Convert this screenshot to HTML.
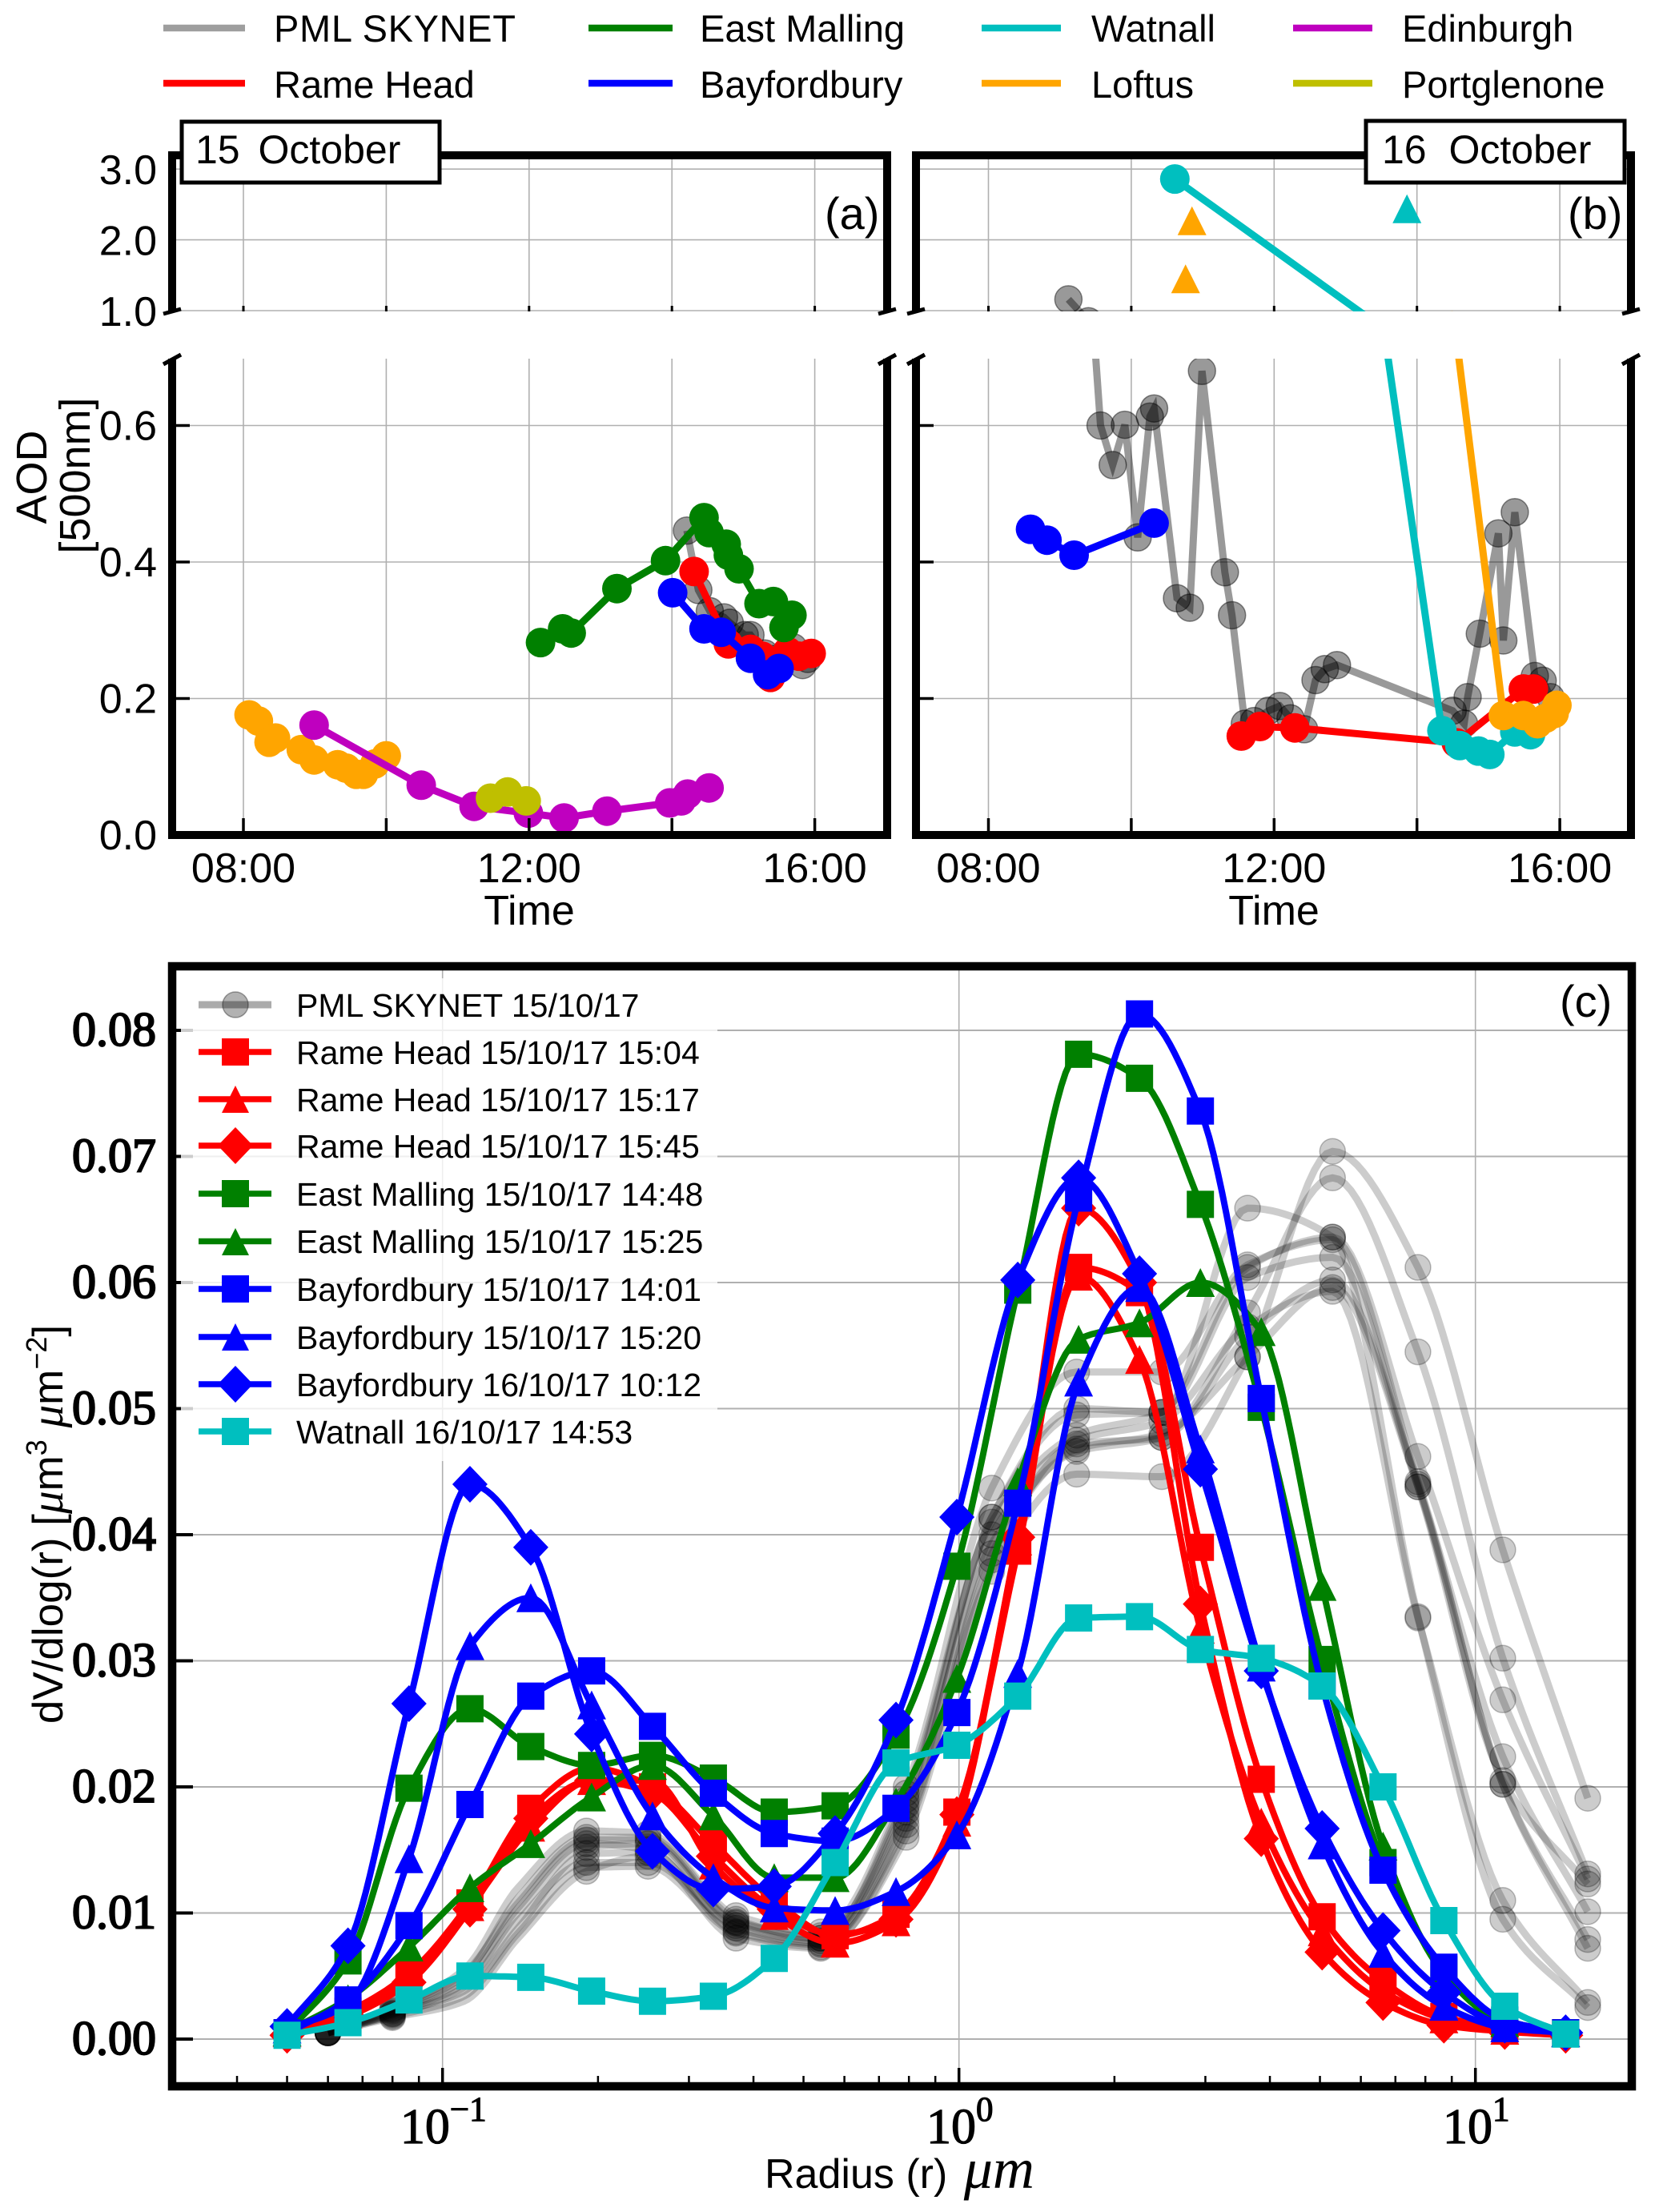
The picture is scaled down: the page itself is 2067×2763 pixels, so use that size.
<!DOCTYPE html>
<html lang="en">
<head>
<meta charset="utf-8">
<title>AOD time series and size distributions</title>
<style>
html,body{margin:0;padding:0;background:#fff;}
svg{display:block;}
text{font-family:"Liberation Sans",sans-serif;fill:#000;}
.tk{font-size:52px;}
.leg{font-size:47px;}
.leg2{font-size:41px;}
.srf{font-family:"Liberation Serif",serif;}
</style>
</head>
<body>
<svg id="figure" xmlns="http://www.w3.org/2000/svg" width="2067" height="2763" viewBox="0 0 2067 2763">
<defs>
<clipPath id="clip-a-up"><rect x="215" y="194" width="893" height="195"/></clipPath>
<clipPath id="clip-a-lo"><rect x="215" y="448" width="893" height="595"/></clipPath>
<clipPath id="clip-b-up"><rect x="1144" y="194" width="893" height="195"/></clipPath>
<clipPath id="clip-b-lo"><rect x="1144" y="448" width="893" height="595"/></clipPath>
</defs>
<rect width="2067" height="2763" fill="#fff"/>

<g>
  <g><line x1="204" x2="306" y1="35" y2="35" stroke="#000" stroke-opacity=".38" stroke-width="8.500"/><text class="leg" x="342" y="52" textLength="302">PML SKYNET</text></g>
  <g><line x1="204" x2="306" y1="104" y2="104" stroke="#f00" stroke-width="8.500"/><text class="leg" x="342" y="122">Rame Head</text></g>
  <g><line x1="735" x2="840" y1="35" y2="35" stroke="#008000" stroke-width="8.500"/><text class="leg" x="874" y="52">East Malling</text></g>
  <g><line x1="735" x2="840" y1="104" y2="104" stroke="#00f" stroke-width="8.500"/><text class="leg" x="874" y="122">Bayfordbury</text></g>
  <g><line x1="1226" x2="1325" y1="35" y2="35" stroke="#00bfbf" stroke-width="8.500"/><text class="leg" x="1363" y="52">Watnall</text></g>
  <g><line x1="1226" x2="1325" y1="104" y2="104" stroke="#ffa500" stroke-width="8.500"/><text class="leg" x="1363" y="122">Loftus</text></g>
  <g><line x1="1615" x2="1714" y1="35" y2="35" stroke="#bf00bf" stroke-width="8.500"/><text class="leg" x="1751" y="52">Edinburgh</text></g>
  <g><line x1="1615" x2="1714" y1="104" y2="104" stroke="#bfbf00" stroke-width="8.500"/><text class="leg" x="1751" y="122">Portglenone</text></g>
</g>

<g id="grid-layer"></g>
<g id="data-a-up" clip-path="url(#clip-a-up)"></g>
<g id="data-a-lo" clip-path="url(#clip-a-lo)"></g>
<g id="data-b-up" clip-path="url(#clip-b-up)"></g>
<g id="data-b-lo" clip-path="url(#clip-b-lo)"></g>
<g id="data-c"></g>
<g id="tick-layer"></g>

<g fill="none" stroke="#000" stroke-width="10">
  <path d="M215 389V194H1108V389"/>
  <path d="M215 448V1043H1108V448"/>
  <g stroke-width="5">
    <path d="M204 392L226 386M204 455L226 443M1097 392L1119 386M1097 455L1119 443"/>
  </g>
</g>
<g fill="none" stroke="#000" stroke-width="10">
  <path d="M1144 389V194H2037V389"/>
  <path d="M1144 448V1043H2037V448"/>
  <g stroke-width="5">
    <path d="M1133 392L1155 386M1133 455L1155 443M2026 392L2048 386M2026 455L2048 443"/>
  </g>
</g>
<rect x="215" y="1207" width="1823" height="1399" fill="none" stroke="#000" stroke-width="10.500"/>

<g>
  <rect x="227" y="152" width="322" height="76" fill="#fff" stroke="#000" stroke-width="5"/>
  <text x="244" y="204" font-size="50" word-spacing="9">15 October</text>
  <text x="1030" y="286" font-size="56">(a)</text>
</g>
<g>
  <rect x="1706" y="151" width="323" height="77" fill="#fff" stroke="#000" stroke-width="5"/>
  <text x="1726" y="204" font-size="50" word-spacing="14">16 October</text>
  <text x="1958" y="286" font-size="56">(b)</text>
</g>
<text class="tk" x="661" y="1155" text-anchor="middle">Time</text>
<text class="tk" x="1591" y="1155" text-anchor="middle">Time</text>
<text transform="translate(58,596) rotate(-90)" text-anchor="middle" font-size="54">AOD</text>
<text transform="translate(112,594) rotate(-90)" text-anchor="middle" font-size="54">[500nm]</text>

<g>
  <rect x="226" y="1222" width="670" height="603" fill="#fff" fill-opacity=".8"/>
  <g><line x1="248" x2="339" y1="1255" y2="1255" stroke="#000" stroke-opacity=".33" stroke-width="9"/><circle cx="294" cy="1255" r="16" fill="#000" fill-opacity=".3" stroke="#000" stroke-opacity=".35" stroke-width="1.5"/><text class="leg2" x="370" y="1270">PML SKYNET 15/10/17</text></g>
  <g><line x1="248" x2="339" y1="1314" y2="1314" stroke="#f00" stroke-width="7.500"/><rect x="277" y="1297" width="34" height="34" fill="#f00"/><text class="leg2" x="370" y="1329">Rame Head 15/10/17 15:04</text></g>
  <g><line x1="248" x2="339" y1="1373" y2="1373" stroke="#f00" stroke-width="7.500"/><path d="M294 1356L311 1390H277Z" fill="#f00"/><text class="leg2" x="370" y="1388">Rame Head 15/10/17 15:17</text></g>
  <g><line x1="248" x2="339" y1="1431" y2="1431" stroke="#f00" stroke-width="7.500"/><path d="M294 1408L316 1431L294 1454L272 1431Z" fill="#f00"/><text class="leg2" x="370" y="1446">Rame Head 15/10/17 15:45</text></g>
  <g><line x1="248" x2="339" y1="1491" y2="1491" stroke="#008000" stroke-width="7.500"/><rect x="277" y="1474" width="34" height="34" fill="#008000"/><text class="leg2" x="370" y="1506">East Malling 15/10/17 14:48</text></g>
  <g><line x1="248" x2="339" y1="1550.500" y2="1550.500" stroke="#008000" stroke-width="7.500"/><path d="M294 1534L311 1568H277Z" fill="#008000"/><text class="leg2" x="370" y="1565">East Malling 15/10/17 15:25</text></g>
  <g><line x1="248" x2="339" y1="1610" y2="1610" stroke="#00f" stroke-width="7.500"/><rect x="277" y="1593" width="34" height="34" fill="#00f"/><text class="leg2" x="370" y="1625">Bayfordbury 15/10/17 14:01</text></g>
  <g><line x1="248" x2="339" y1="1670" y2="1670" stroke="#00f" stroke-width="7.500"/><path d="M294 1653L311 1687H277Z" fill="#00f"/><text class="leg2" x="370" y="1685">Bayfordbury 15/10/17 15:20</text></g>
  <g><line x1="248" x2="339" y1="1729" y2="1729" stroke="#00f" stroke-width="7.500"/><path d="M294 1706L316 1729L294 1752L272 1729Z" fill="#00f"/><text class="leg2" x="370" y="1744">Bayfordbury 16/10/17 10:12</text></g>
  <g><line x1="248" x2="339" y1="1788" y2="1788" stroke="#00bfbf" stroke-width="7.500"/><rect x="277" y="1771" width="34" height="34" fill="#00bfbf"/><text class="leg2" x="370" y="1803">Watnall 16/10/17 14:53</text></g>
</g>
<text x="1948" y="1270" font-size="56">(c)</text>
<text transform="translate(78,1904) rotate(-90)" text-anchor="middle" font-size="53">dV/dlog(r) [<tspan class="srf" font-style="italic" font-size="57">μ</tspan>m<tspan font-size="36" dy="-20">3</tspan><tspan dy="20"> </tspan><tspan class="srf" font-style="italic" font-size="57">μ</tspan>m<tspan font-size="36" dy="-20">−2</tspan><tspan dy="20">]</tspan></text>
<text x="955" y="2733" font-size="52">Radius (r) <tspan class="srf" font-style="italic" font-size="72" dx="6">μm</tspan></text>

<script>
// ---------- panel (a) 15 October: AOD values ----------
const aGrayHours = [14.21,14.37,14.53,14.73,14.81,15.02,15.10,15.30,15.42,15.70,15.83,15.90];
const aGrayAod = [.446,.359,.328,.319,.311,.293,.293,.266,.258,.275,.249,.258];
const aRedHours = [14.31,14.79,15.10,15.26,15.38,15.62,15.78,15.95];
const aRedAod = [.386,.280,.272,.262,.231,.269,.262,.266];
const aGreenHours = [12.16,12.47,12.59,13.23,13.91,14.45,14.52,14.76,14.79,14.94,15.22,15.42,15.57,15.68];
const aGreenAod = [.282,.302,.296,.361,.402,.465,.443,.426,.410,.390,.339,.342,.304,.322];
const aBlueHours = [14.01,14.45,14.69,15.10,15.34,15.50];
const aBlueAod = [.355,.302,.297,.259,.235,.244];
const aOrangeHours = [8.08,8.21,8.36,8.45,8.81,8.99,9.32,9.44,9.58,9.68,9.84,10.00];
const aOrangeAod = [.176,.167,.136,.142,.125,.110,.103,.098,.089,.089,.104,.116];
const aMagentaHours = [8.99,10.49,11.23,11.99,12.49,13.09,13.97,14.13,14.22,14.52];
const aMagentaAod = [.161,.073,.042,.032,.025,.035,.047,.050,.060,.069];
const aOliveHours = [11.46,11.70,11.96];
const aOliveAod = [.054,.063,.050];

// ---------- panel (b) 16 October: AOD values ----------
const bGrayHours = [9.12,9.40,9.57,9.74,9.91,10.09,10.26,10.32,10.64,10.82,10.99,11.31,11.41,11.59,11.72,11.92,12.08,12.23,12.42,12.58,12.71,12.88,14.50,14.66,14.71,14.88,15.14,15.21,15.37,15.65,15.76,15.87];
const bGrayAod = [1.16,.85,.600,.542,.601,.436,.613,.625,.347,.333,.680,.385,.322,.163,.167,.182,.189,.171,.155,.227,.243,.249,.182,.163,.202,.295,.442,.285,.473,.233,.226,.202];
const bRedHours = [11.54,11.80,12.29,14.55,15.49,15.63];
const bRedAod = [.145,.159,.157,.135,.214,.214];
const bBlueHours = [8.59,8.82,9.20,10.32];
const bBlueAod = [.448,.432,.410,.457];
const bCyanHours = [10.61,14.35,14.60,14.86,15.02,15.37,15.59];
const bCyanAod = [2.86,.153,.131,.123,.118,.151,.147];
const bOrangeHours = [14.49,15.21,15.49,15.69,15.80,15.92,15.96];
const bOrangeAod = [.78,.175,.175,.163,.171,.178,.190];
const bCyanTriangleHours = [13.86];
const bCyanTriangleAod = [2.44];
const bOrangeTriangleHours = [10.76,10.85];
const bOrangeTriangleAod = [1.45,2.27];

// ---------- panel (c) size distributions ----------
const radii = [.05,.0656,.0861,.113,.1482,.1944,.255,.3345,.4388,.5757,.7552,.9907,1.2996,1.7048,2.2365,2.9339,3.8488,5.049,6.6235,8.689,11.3985,14.953];
const rameHead1504 = [.0005,.0022,.0052,.0108,.0183,.0215,.0200,.0155,.0110,.0082,.0099,.0180,.0387,.0612,.0592,.0390,.0206,.0097,.0046,.0018,.0008,.0005];
const rameHead1517 = [.0005,.0020,.0048,.0105,.0168,.0205,.0205,.0138,.0098,.0076,.0093,.0172,.0395,.0605,.0539,.0325,.0172,.0085,.0038,.0016,.0007,.0005];
const rameHead1545 = [.0003,.0018,.0045,.0103,.0175,.0205,.0195,.0145,.0103,.0083,.0095,.0178,.0398,.0659,.0600,.0345,.0159,.0069,.0029,.0011,.0006,.0003];
const eastMalling1448 = [.0005,.0062,.0199,.0262,.0232,.0217,.0225,.0207,.0180,.0185,.0241,.0375,.0594,.0781,.0762,.0662,.0501,.0301,.0140,.0055,.0015,.0005];
const eastMalling1525 = [.0006,.0032,.0073,.0120,.0155,.0192,.0217,.0177,.0128,.0128,.0188,.0286,.0442,.0555,.0568,.0600,.0561,.0359,.0153,.0052,.0013,.0005];
const bayfordbury1401 = [.0005,.0031,.0090,.0186,.0272,.0292,.0248,.0195,.0163,.0157,.0183,.0259,.0425,.0667,.0813,.0736,.0508,.0280,.0134,.0057,.0015,.0005];
const bayfordbury1520 = [.0008,.0028,.0143,.0312,.0350,.0265,.0177,.0128,.0104,.0102,.0117,.0162,.0290,.0521,.0596,.0468,.0295,.0154,.0068,.0026,.0009,.0005];
const bayfordbury1012 = [.0010,.0074,.0266,.0440,.0390,.0242,.0149,.0119,.0121,.0163,.0253,.0414,.0602,.0683,.0607,.0452,.0292,.0167,.0086,.0037,.0011,.0005];
const watnall1453 = [.0003,.0013,.0031,.0050,.0049,.0038,.0030,.0034,.0064,.0140,.0219,.0233,.0272,.0334,.0335,.0309,.0302,.0280,.0200,.0094,.0026,.0004];

const skynetRadii = [.06,.08,.11,.14,.19,.25,.37,.54,.79,1.157,1.69,2.47,3.62,5.29,7.74,11.3,16.5];
const skynetHiddenMarkers = [2,3];
const skynetA = [.0005,.0020,.0038,.0088,.0147,.0148,.0085,.0075,.0170,.0371,.0448,.0446,.0541,.0704,.0612,.0388,.0191];
const skynetB = [.0005,.0019,.0041,.0094,.0140,.0140,.0090,.0078,.0180,.0393,.0466,.0477,.0576,.0683,.0545,.0302,.0131];
const skynetC = [.0005,.0022,.0050,.0112,.0160,.0160,.0095,.0080,.0195,.0410,.0479,.0497,.0612,.0636,.0462,.0269,.0127];
const skynetD = [.0005,.0024,.0055,.0120,.0165,.0163,.0098,.0085,.0200,.0437,.0529,.0529,.0614,.0634,.0442,.0224,.0101];
const skynetE = [.0005,.0020,.0044,.0100,.0152,.0155,.0092,.0080,.0185,.0414,.0495,.0497,.0604,.0620,.0438,.0205,.0123];
const skynetF = [.0006,.0018,.0034,.0084,.0136,.0137,.0084,.0073,.0160,.0380,.0472,.0477,.0557,.0602,.0440,.0202,.0079];
const skynetG = [.0005,.0017,.0030,.0080,.0133,.0145,.0080,.0072,.0165,.0385,.0468,.0480,.0541,.0596,.0438,.0202,.0072];
const skynetH = [.0005,.0021,.0047,.0104,.0155,.0150,.0088,.0076,.0175,.0400,.0475,.0490,.0565,.0593,.0334,.0110,.0029];
const skynetI = [.0005,.0023,.0052,.0108,.0158,.0158,.0093,.0082,.0190,.0414,.0500,.0497,.0659,.0636,.0335,.0095,.0025];

// ---------- tick labels ----------
const timeTickHours = [8,10,12,14,16];
const timeLabelHours = [8,12,16];
const timeTickLabels = ['08:00','12:00','16:00'];
const lowerAodTicks = [0,.2,.4,.6];
const lowerAodLabels = ['0.0','0.2','0.4','0.6'];
const upperAodTicks = [1,2,3];
const upperAodLabels = ['1.0','2.0','3.0'];
const sizeTicks = [0,.01,.02,.03,.04,.05,.06,.07,.08];
const sizeTickLabels = ['0.00','0.01','0.02','0.03','0.04','0.05','0.06','0.07','0.08'];
const radiusDecades = [.1,1,10];
const radiusExponents = ['−1','0','1'];
const radiusMinorTicks = [.04,.05,.06,.07,.08,.09,.2,.3,.4,.5,.6,.7,.8,.9,2,3,4,5,6,7,8,9];

// ---------- axis functions ----------
const xTimeA = h => 304 + (h - 8) * 89.2;
const xTimeB = h => 1234.5 + (h - 8) * 89.2;
const yAodLower = v => 1043 - v * 852.5;
const yAodUpper = v => 388 - (v - 1) * 88.4;
const xRadius = r => 552.7 + 645 * (Math.log10(r) + 1);
const ySize = v => 2547 - v * 15750;

const NS = 'http://www.w3.org/2000/svg';
function svgEl(tag, attrs, parent) {
  const el = document.createElementNS(NS, tag);
  for (const k in attrs) el.setAttribute(k, attrs[k]);
  parent.appendChild(el);
  return el;
}
function layer(id) { return document.getElementById(id); }

// Monotone cubic Hermite curve in log-radius, returned as an SVG path string
function smoothPath(xs, ys) {
  const n = xs.length;
  const t = xs.map(r => Math.log10(r));
  const h = [], dl = [], m = new Array(n).fill(0);
  for (let i = 0; i < n - 1; i++) { h.push(t[i + 1] - t[i]); dl.push((ys[i + 1] - ys[i]) / h[i]); }
  m[0] = dl[0];
  m[n - 1] = dl[n - 2];
  for (let i = 1; i < n - 1; i++) {
    if (dl[i - 1] * dl[i] <= 0) { m[i] = 0; continue; }
    const w1 = 2 * h[i] + h[i - 1], w2 = h[i] + 2 * h[i - 1];
    m[i] = (w1 + w2) / (w1 / dl[i - 1] + w2 / dl[i]);
  }
  let p = '';
  for (let i = 0; i < n - 1; i++) {
    for (let s = 0; s < 14; s++) {
      const u = s / 14, u2 = u * u, u3 = u2 * u;
      const v = (2 * u3 - 3 * u2 + 1) * ys[i] + (u3 - 2 * u2 + u) * h[i] * m[i] + (-2 * u3 + 3 * u2) * ys[i + 1] + (u3 - u2) * h[i] * m[i + 1];
      p += (p ? 'L' : 'M') + xRadius(Math.pow(10, t[i] + u * h[i])).toFixed(1) + ' ' + ySize(v).toFixed(1);
    }
  }
  p += 'L' + xRadius(xs[n - 1]).toFixed(1) + ' ' + ySize(ys[n - 1]).toFixed(1);
  return p;
}

// ---------- gridlines and ticks ----------
const grid = layer('grid-layer');
const ticks = layer('tick-layer');
[['a', xTimeA, 215, 1108], ['b', xTimeB, 1144, 2037]].forEach(([panel, xFn, left, right]) => {
  timeTickHours.forEach(h => {
    const x = xFn(h);
    const g1 = svgEl('line', {x1: x, x2: x, y1: 194, y2: 389, stroke: '#b0b0b0', 'stroke-width': 1.6}, grid);
    
    
    const g2 = svgEl('line', {x1: x, x2: x, y1: 448, y2: 1043, stroke: '#b0b0b0', 'stroke-width': 1.6}, grid);
    
    
    const t1 = svgEl('line', {x1: x, x2: x, y1: 1043, y2: 1022, stroke: '#000', 'stroke-width': 3.5}, ticks);
    
    
    const t2 = svgEl('line', {x1: x, x2: x, y1: 389, y2: 382, stroke: '#000', 'stroke-width': 3}, ticks);
    
    
  });
  timeLabelHours.forEach((h, i) => {
    const lab = svgEl('text', {x: xFn(h), y: 1102, 'text-anchor': 'middle', class: 'tk'}, ticks);
    lab.textContent = timeTickLabels[i];
    
    
  });
  upperAodTicks.forEach(v => {
    const g = svgEl('line', {x1: left, x2: right, y1: yAodUpper(v), y2: yAodUpper(v), stroke: '#b0b0b0', 'stroke-width': 1.6}, grid);
    
    
  });
  lowerAodTicks.forEach(v => {
    const g = svgEl('line', {x1: left, x2: right, y1: yAodLower(v), y2: yAodLower(v), stroke: '#b0b0b0', 'stroke-width': 1.6}, grid);
    
    
    const t = svgEl('line', {x1: left, x2: left + 22, y1: yAodLower(v), y2: yAodLower(v), stroke: '#000', 'stroke-width': 3.5}, ticks);
    
    
  });
});
lowerAodTicks.forEach((v, i) => {
  const lab = svgEl('text', {x: 196, y: yAodLower(v) + 18, 'text-anchor': 'end', class: 'tk'}, ticks);
  lab.textContent = lowerAodLabels[i];
  
  
});
upperAodTicks.forEach((v, i) => {
  const lab = svgEl('text', {x: 196, y: yAodUpper(v) + 19, 'text-anchor': 'end', class: 'tk'}, ticks);
  lab.textContent = upperAodLabels[i];
  
  
});
sizeTicks.forEach((v, i) => {
  const y = ySize(v);
  const g = svgEl('line', {x1: 215, x2: 2038, y1: y, y2: y, stroke: '#b0b0b0', 'stroke-width': 2}, grid);
  
  
  const t = svgEl('line', {x1: 215, x2: 241, y1: y, y2: y, stroke: '#000', 'stroke-width': 4}, ticks);
  
  
  const lab = svgEl('text', {x: 195, y: y + 19, 'text-anchor': 'end', class: 'srf', 'font-size': 60, stroke: '#000', 'stroke-width': 2}, ticks);
  lab.textContent = sizeTickLabels[i];
  
  
});
radiusDecades.forEach((r, i) => {
  const x = xRadius(r);
  const g = svgEl('line', {x1: x, x2: x, y1: 1207, y2: 2606, stroke: '#b0b0b0', 'stroke-width': 1.6}, grid);
  
  
  const t = svgEl('line', {x1: x, x2: x, y1: 2606, y2: 2583, stroke: '#000', 'stroke-width': 3.5}, ticks);
  
  
  const lab = svgEl('text', {x: x + 1, y: 2677, 'text-anchor': 'middle', class: 'srf', 'font-size': 62, stroke: '#000', 'stroke-width': 1.2}, ticks);
  
  
  lab.appendChild(document.createTextNode('10'));
  const sup = svgEl('tspan', {dy: -28, 'font-size': 43}, lab);
  sup.textContent = radiusExponents[i];
});
radiusMinorTicks.forEach(r => {
  const x = xRadius(r);
  const t = svgEl('line', {x1: x, x2: x, y1: 2606, y2: 2593, stroke: '#000', 'stroke-width': 2.5}, ticks);
  
  
});

// ---------- panels (a) and (b) ----------
function drawTimeSeries(panel, name, xFn, hours, aod, color, opacity) {
  [['up', yAodUpper], ['lo', yAodLower]].forEach(([part, yFn]) => {
    const g = svgEl('g', {}, layer('data-' + panel + '-' + part));
    
    
    const pts = hours.map((h, i) => xFn(h).toFixed(1) + ',' + yFn(aod[i]).toFixed(1)).join(' ');
    const line = svgEl('polyline', {points: pts, fill: 'none', stroke: color, 'stroke-width': 9, 'stroke-opacity': opacity}, g);
    
    
    hours.forEach((h, i) => {
      const c = svgEl('circle', {cx: xFn(h).toFixed(1), cy: yFn(aod[i]).toFixed(1), r: opacity < 1 ? 17 : 18.5, fill: color, 'fill-opacity': opacity}, g);
      if (opacity < 1) { c.setAttribute('stroke', '#000'); c.setAttribute('stroke-opacity', .45); c.setAttribute('stroke-width', 1.5); }
      
      
    });
  });
}
function drawTriangles(panel, name, xFn, hours, aod, color) {
  hours.forEach((h, i) => {
    const x = xFn(h), y = yAodUpper(aod[i]);
    const tri = svgEl('path', {d: 'M' + x + ' ' + (y - 18) + 'L' + (x + 18) + ' ' + (y + 18) + 'H' + (x - 18) + 'Z', fill: color}, layer('data-' + panel + '-up'));
    
    
  });
}
drawTimeSeries('a', 'pml-skynet', xTimeA, aGrayHours, aGrayAod, '#000', .4);
drawTimeSeries('a', 'rame-head', xTimeA, aRedHours, aRedAod, '#f00', 1);
drawTimeSeries('a', 'east-malling', xTimeA, aGreenHours, aGreenAod, '#008000', 1);
drawTimeSeries('a', 'bayfordbury', xTimeA, aBlueHours, aBlueAod, '#00f', 1);
drawTimeSeries('a', 'loftus', xTimeA, aOrangeHours, aOrangeAod, '#ffa500', 1);
drawTimeSeries('a', 'edinburgh', xTimeA, aMagentaHours, aMagentaAod, '#bf00bf', 1);
drawTimeSeries('a', 'portglenone', xTimeA, aOliveHours, aOliveAod, '#bfbf00', 1);

drawTimeSeries('b', 'pml-skynet', xTimeB, bGrayHours, bGrayAod, '#000', .4);
drawTimeSeries('b', 'rame-head', xTimeB, bRedHours, bRedAod, '#f00', 1);
drawTimeSeries('b', 'bayfordbury', xTimeB, bBlueHours, bBlueAod, '#00f', 1);
drawTimeSeries('b', 'watnall', xTimeB, bCyanHours, bCyanAod, '#00bfbf', 1);
drawTriangles('b', 'watnall', xTimeB, bCyanTriangleHours, bCyanTriangleAod, '#00bfbf');
drawTimeSeries('b', 'loftus', xTimeB, bOrangeHours, bOrangeAod, '#ffa500', 1);
drawTriangles('b', 'loftus', xTimeB, bOrangeTriangleHours, bOrangeTriangleAod, '#ffa500');

// ---------- panel (c) ----------
const dataC = layer('data-c');
[skynetA, skynetB, skynetC, skynetD, skynetE, skynetF, skynetG, skynetH, skynetI].forEach(vals => {
  const g = svgEl('g', {}, dataC);
  
  
  const line = svgEl('path', {d: smoothPath(skynetRadii, vals), fill: 'none', stroke: '#000', 'stroke-opacity': .2, 'stroke-width': 9}, g);
  
  
  skynetRadii.forEach((r, i) => {
    if (skynetHiddenMarkers.indexOf(i) >= 0) return;
    const c = svgEl('circle', {cx: xRadius(r).toFixed(1), cy: ySize(vals[i]).toFixed(1), r: 16, fill: '#000', 'fill-opacity': .2, stroke: '#000', 'stroke-opacity': .25, 'stroke-width': 1.5}, g);
    
    
  });
});
function drawSizeCurve(name, vals, color, shape) {
  const g = svgEl('g', {}, dataC);
  
  
  const line = svgEl('path', {d: smoothPath(radii, vals), fill: 'none', stroke: color, 'stroke-width': 8}, g);
  
  
  radii.forEach((r, i) => {
    const x = xRadius(r), y = ySize(vals[i]);
    let d;
    if (shape === 'square') d = 'M' + (x - 17) + ' ' + (y - 17) + 'h34v34h-34Z';
    else if (shape === 'triangle') d = 'M' + x + ' ' + (y - 18) + 'L' + (x + 18) + ' ' + (y + 18) + 'H' + (x - 18) + 'Z';
    else d = 'M' + x + ' ' + (y - 23) + 'L' + (x + 22) + ' ' + y + 'L' + x + ' ' + (y + 23) + 'L' + (x - 22) + ' ' + y + 'Z';
    const m = svgEl('path', {d: d, fill: color}, g);
    
    
  });
}
drawSizeCurve('rame-head-15-04', rameHead1504, '#f00', 'square');
drawSizeCurve('rame-head-15-17', rameHead1517, '#f00', 'triangle');
drawSizeCurve('rame-head-15-45', rameHead1545, '#f00', 'diamond');
drawSizeCurve('east-malling-14-48', eastMalling1448, '#008000', 'square');
drawSizeCurve('east-malling-15-25', eastMalling1525, '#008000', 'triangle');
drawSizeCurve('bayfordbury-14-01', bayfordbury1401, '#00f', 'square');
drawSizeCurve('bayfordbury-15-20', bayfordbury1520, '#00f', 'triangle');
drawSizeCurve('bayfordbury-10-12', bayfordbury1012, '#00f', 'diamond');
drawSizeCurve('watnall-14-53', watnall1453, '#00bfbf', 'square');
</script>
</svg>
</body>
</html>
